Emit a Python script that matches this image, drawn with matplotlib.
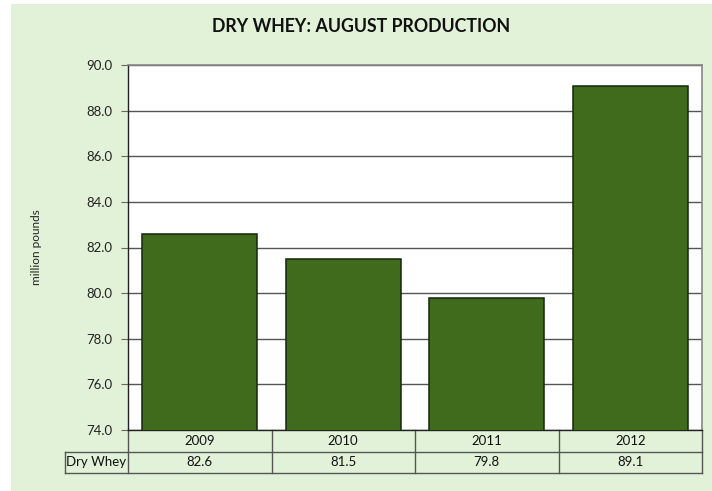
import matplotlib
matplotlib.use("Agg")
import matplotlib.pyplot as plt
from matplotlib.patches import Rectangle
from matplotlib.lines import Line2D

years = ["2009", "2010", "2011", "2012"]
values = [82.6, 81.5, 79.8, 89.1]
series_name = "Dry Whey"
yticks = [74.0, 76.0, 78.0, 80.0, 82.0, 84.0, 86.0, 88.0, 90.0]

plt.rcParams['font.family'] = ['Lato', 'DejaVu Sans']

W, H = 712, 491
fig = plt.figure(figsize=(W/100, H/100), dpi=100)
fig.patch.set_facecolor('white')
bg = '#E2F2D8'
fig.patches.append(Rectangle((11/W, 0), 1 - 11/W, 1 - 4/H, transform=fig.transFigure,
                             facecolor=bg, edgecolor='none', zorder=-10))

left, right, top, bottom = 128, 702, 65, 430
ax = fig.add_axes([left/W, 1 - bottom/H, (right-left)/W, (bottom-top)/H])
ax.set_facecolor('white')

x = list(range(len(years)))
ax.bar(x, values, width=0.8, color='#406B1C', edgecolor='#15260A', linewidth=1.1, zorder=3)
ax.set_xlim(-0.5, len(years) - 0.5)
ax.set_ylim(74, 90)
ax.set_yticks(yticks)
ax.set_yticklabels([f"{v:.1f}" for v in yticks], fontsize=9.5, color='#222222')
ax.tick_params(axis='y', length=5, width=0.8, color='#666666', pad=6)
ax.set_xticks([])
ax.yaxis.grid(True, color='#555555', linewidth=1.0, zorder=1)
for s in ['top', 'right']:
    ax.spines[s].set_color('#888888')
    ax.spines[s].set_linewidth(1.2)
ax.spines['left'].set_color('#222222')
ax.spines['left'].set_linewidth(1.0)
ax.spines['bottom'].set_color('#222222')
ax.spines['bottom'].set_linewidth(1.0)

ax.set_ylabel("million pounds", fontsize=8.5, color='#222222', labelpad=32)

# data table under the chart
ph = bottom - top
r1 = (452 - bottom) / ph
r2 = (473 - bottom) / ph
lab_left = (65 - left) / (right - left)
lc = '#555555'
tr = ax.transAxes
def hline(x0, x1, y):
    ax.add_line(Line2D([x0, x1], [y, y], transform=tr, color=lc, lw=1.0, clip_on=False))
def vline(xx, y0, y1):
    ax.add_line(Line2D([xx, xx], [y0, y1], transform=tr, color=lc, lw=1.0, clip_on=False))
hline(0, 1, -r1)
hline(lab_left, 1, -r2)
hline(lab_left, 0, -r1)
vline(lab_left, -r1, -r2)
vline(0, 0, -r2)
n = len(years)
for i in range(1, n + 1):
    vline(i / n, 0, -r2)
for i, (yr, v) in enumerate(zip(years, values)):
    cx = (i + 0.5) / n
    ax.text(cx, -r1 / 2, yr, transform=tr, ha='center', va='center', fontsize=9.5, color='#111111')
    ax.text(cx, -(r1 + r2) / 2, f"{v:.1f}", transform=tr, ha='center', va='center', fontsize=9.5, color='#111111')
ax.text(lab_left / 2, -(r1 + r2) / 2, series_name, transform=tr, ha='center', va='center',
        fontsize=9.5, color='#111111')

fig.text(361/W, 1 - 27/H, "DRY WHEY: AUGUST PRODUCTION", ha='center', va='center',
         fontsize=12.8, fontweight='bold', color='#111111')

fig.savefig("out.png", dpi=100, facecolor=fig.get_facecolor())
